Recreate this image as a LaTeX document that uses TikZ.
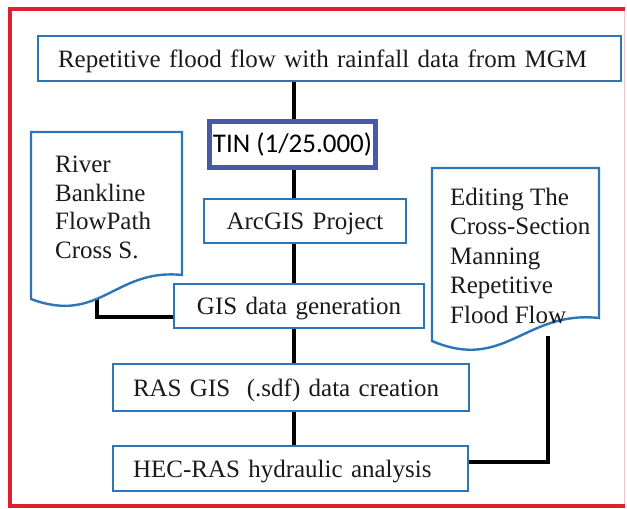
\documentclass[tikz,border=0pt]{standalone}
\usepackage{fontspec}
\setmainfont{Liberation Serif}
\newfontfamily\calib{Carlito}
\pgfdeclarelayer{background}
\pgfsetlayers{background,main}
\definecolor{boxblue}{HTML}{2E75B6}
\definecolor{tinblue}{HTML}{4A58A8}
\definecolor{framered}{HTML}{E0202E}
\definecolor{framepink}{HTML}{F6C6CE}
\definecolor{txt}{HTML}{1A1A1A}
\tikzset{
  flowbox/.style={draw=boxblue, line width=2.6pt, fill=white, rectangle, inner ysep=0pt,
    text depth=0pt, font=\fontsize{25}{28}\selectfont, text=txt},
  tinbox/.style={draw=tinblue, line width=5pt, fill=white, rectangle, inner sep=0pt,
    font=\calib\fontsize{27}{30}\selectfont, text=black},
  docshape/.style={draw=boxblue, line width=2.4pt, fill=white},
  doctext/.style={align=left, anchor=base west, inner sep=0pt, text=txt},
  link/.style={draw=black, line width=3.6pt},
  frameline/.style={draw=framered, line width=4pt}
}
\begin{document}
\begin{tikzpicture}[x=1pt,y=-1pt]
\useasboundingbox (0,0) rectangle (627,509);
% boxes
\node[flowbox, minimum height=45pt, inner xsep=20pt, text width=543pt, align=left] (top) at (329.5,58.5)
  {Repetitive flood flow with rainfall data from MGM};
\node[tinbox, minimum width=166pt, minimum height=46pt] (tin) at (292.5,144) {TIN (1/25.000)};
\node[flowbox, minimum height=44pt, inner xsep=0pt, text width=202pt, align=center] (arc) at (305,221)
  {ArcGIS Project};
\node[flowbox, minimum height=44pt, inner xsep=0pt, text width=250pt, align=center] (gis) at (299,306)
  {GIS data generation};
\node[flowbox, minimum height=47pt, inner xsep=20pt, text width=316pt, align=left] (ras) at (291,387.5)
  {RAS GIS\ \ (.sdf) data creation};
\node[flowbox, minimum height=45pt, inner xsep=20pt, text width=315pt, align=left] (hec) at (290.5,468.5)
  {HEC-RAS hydraulic analysis};
% documents
\draw[docshape] (31,132) -- (182,132) -- (182,275)
  .. controls (115,268) and (100,325) .. (31,299) -- cycle;
\node[doctext, font=\fontsize{25}{28.4}\selectfont] (ldoc) at (55,258)
  {River\\Bankline\\FlowPath\\Cross S.};
\draw[docshape] (432,168) -- (599,168) -- (599,318)
  .. controls (525,310) and (505,372) .. (432,341) -- cycle;
\node[doctext, font=\fontsize{25}{29.5}\selectfont] (rdoc) at (450,323)
  {Editing The\\Cross-Section\\Manning\\Repetitive\\Flood Flow};
% frame
\draw[framepink, line width=1.5pt] (624.5,8) -- (624.5,507);
\draw[frameline] (10,7) -- (10,508);
\draw[frameline] (8,9) -- (625,9);
\draw[frameline] (8,506) -- (625,506);
% connectors
\coordinate (spine) at (294,0);
\coordinate (ld) at (97,298);
\coordinate (lj) at (97,317);
\coordinate (rd) at (548,336);
\coordinate (rj) at (548,462);
\begin{pgfonlayer}{background}
\fill[white] (0,0) rectangle (627,509);
\draw[link] (top.south -| spine) -- (tin.north -| spine);
\draw[link] (tin.south -| spine) -- (arc.north -| spine);
\draw[link] (arc.south -| spine) -- (gis.north -| spine);
\draw[link] (gis.south -| spine) -- (ras.north -| spine);
\draw[link] (ras.south -| spine) -- (hec.north -| spine);
\draw[link] (ld) -- (lj) -- (lj -| gis.west);
\draw[link] (rd) -- (rj) -- (rj -| hec.east);
\end{pgfonlayer}
\end{tikzpicture}
\end{document}
